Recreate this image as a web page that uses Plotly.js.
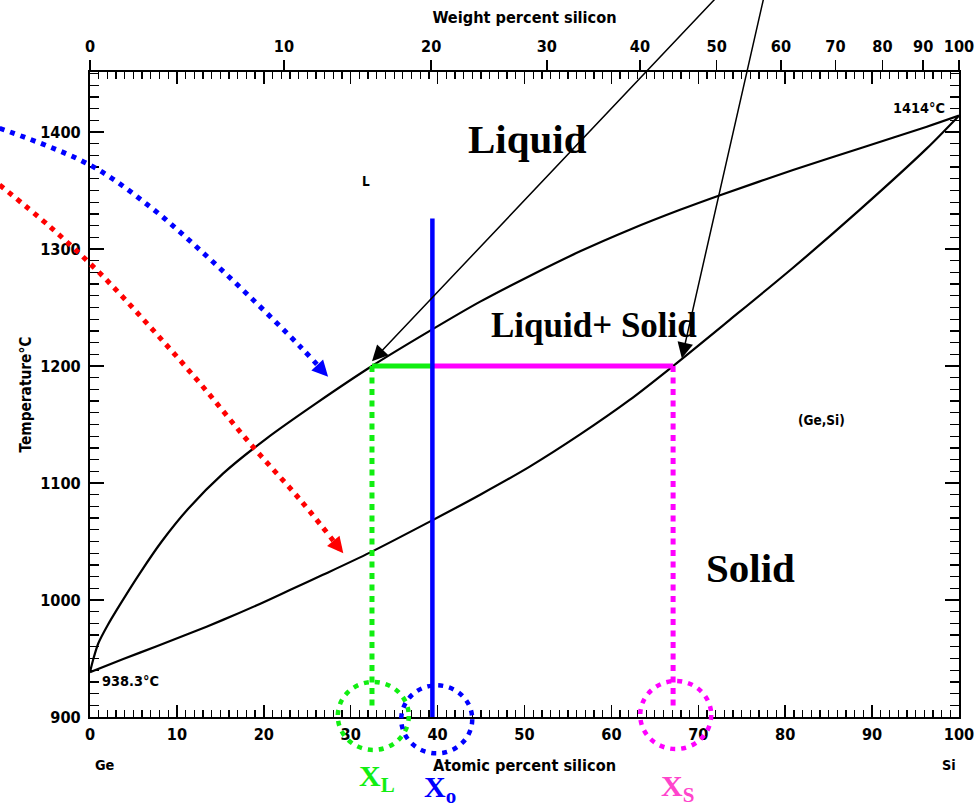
<!DOCTYPE html>
<html>
<head>
<meta charset="utf-8">
<script src="https://cdn.plot.ly/plotly-3.0.1.min.js"></script>
<style>html,body{margin:0;padding:0;background:#fff;}#chart{width:979px;height:807px;}</style>
</head>
<body>
<div id="chart"></div>
<script>
// ---- Data (atomic % Si, temperature °C) ----
const liquidusX = [0, 0.4, 0.96, 2.0, 3.45, 5.75, 8.25, 11.3, 15.3, 20.3, 26.1, 32.45, 39.1, 44.9, 50.6, 56.4, 62.1, 67.9, 72.5, 80.9, 89.0, 96.3, 100];
const liquidusT = [938.3, 950, 963, 978, 996, 1023, 1050, 1078, 1108, 1138, 1168.5, 1200, 1230, 1255, 1277, 1298, 1316.5, 1333.5, 1346, 1367.5, 1387, 1404.5, 1414];
const solidusX = [0, 3.83, 7.68, 11.5, 15.3, 19.2, 23.0, 26.8, 32.2, 39.1, 44.9, 50.6, 56.4, 62.1, 67.1, 73.3, 80.9, 88.5, 96.3, 100];
const solidusT = [938.3, 949.5, 960.5, 971.5, 983, 995.5, 1008.5, 1021.5, 1040.5, 1067, 1090, 1114, 1141.5, 1171, 1200, 1237.5, 1284, 1333, 1386, 1414];

const tieT = 1200;          // tie-line temperature
const xL = 32.45;           // liquid composition
const xO = 39.4;            // overall composition
const xS = 67.1;            // solid composition
const xOTop = 1326;         // top of the overall-composition line

// decorative curved arrows
const blueArrowX = [-10.4, 0, 6.9, 12.66, 18.4, 24.2, 27.4];
const blueArrowT = [1403.2, 1371.8, 1336.2, 1299.1, 1259.2, 1216.5, 1190.9];
const redArrowX = [-10.4, -4.6, 1.15, 6.9, 12.66, 18.4, 24.2, 29.15];
const redArrowT = [1354.7, 1319, 1279.2, 1233.6, 1185.2, 1133.9, 1085.5, 1039.9];
// straight black pointer arrows: tails (outside, top) and heads
const pointerTailX = [74, 78];
const pointerTailT = [1530, 1530];
const pointerHeadX = [32.45, 68.1];
const pointerHeadT = [1204, 1206.6];

// axis ticks
const atTicks = [0, 10, 20, 30, 40, 50, 60, 70, 80, 90, 100];
const wtTicks = [0, 10, 20, 30, 40, 50, 60, 70, 80, 90, 100];
const tempTicks = [900, 1000, 1100, 1200, 1300, 1400];

// ---- font choice: first condensed sans that is installed ----
function hasFont(f) {
  const c = document.createElement('canvas').getContext('2d');
  const s = 'Atomic percent silicon 1234567890';
  for (const base of ['monospace', 'serif']) {
    c.font = 'bold 20px ' + base; const w0 = c.measureText(s).width;
    c.font = 'bold 20px "' + f + '", ' + base; const w1 = c.measureText(s).width;
    if (Math.abs(w1 - w0) > 0.5) return true;
  }
  return false;
}
const fontChoices = [['Liberation Sans Narrow', 1.0], ['DejaVu Sans Condensed', 0.9], ['Liberation Sans', 0.92]];
let sansName = 'Liberation Sans', fs = 0.92;
for (const [f, k] of fontChoices) { if (hasFont(f)) { sansName = f; fs = k; break; } }
const sans = '"' + sansName + '", sans-serif';
const serif = 'Liberation Serif, Times New Roman, serif';

// ---- geometry ----
const W = 979, H = 807;
const xDom = [90 / W, 959 / W];
const yDom = [90 / H, 735 / H];
const xRange = [0, 100];
const yRange = [900, 1451.3];
// full-figure axes with the same data scale (for decorations outside the frame)
const xs = (xRange[1] - xRange[0]) / ((xDom[1] - xDom[0]) * W);
const ys = (yRange[1] - yRange[0]) / ((yDom[1] - yDom[0]) * H);
const x3Range = [xRange[0] - xDom[0] * W * xs, xRange[1] + (1 - xDom[1]) * W * xs];
const y3Range = [yRange[0] - yDom[0] * H * ys, yRange[1] + (1 - yDom[1]) * H * ys];

function wtToAt(w) { const a = w / 28.0855, b = (100 - w) / 72.63; return 100 * a / (a + b); }

const black = '#000';
const green = '#11ee11', blue = '#0000ff', magenta = '#ff00ff', red = '#ff0000', pink = '#ff44cc';

const traces = [
  {x: liquidusX, y: liquidusT, mode: 'lines', line: {color: black, width: 2.2, shape: 'spline', smoothing: 0.8}, xaxis: 'x', yaxis: 'y', name: 'Liquidus'},
  {x: solidusX, y: solidusT, mode: 'lines', line: {color: black, width: 2.2, shape: 'spline', smoothing: 0.8}, xaxis: 'x', yaxis: 'y', name: 'Solidus'},
  {x: [xL, xO], y: [tieT, tieT], mode: 'lines', line: {color: green, width: 5}, xaxis: 'x', yaxis: 'y', name: 'X_L segment'},
  {x: [xO, xS], y: [tieT, tieT], mode: 'lines', line: {color: magenta, width: 5}, xaxis: 'x', yaxis: 'y', name: 'X_S segment'},
  {x: [xL, xL], y: [tieT, 906], mode: 'lines', line: {color: green, width: 5, dash: '6px,5.5px'}, xaxis: 'x', yaxis: 'y', name: 'X_L'},
  {x: [xS, xS], y: [tieT, 906], mode: 'lines', line: {color: magenta, width: 5, dash: '6px,5.5px'}, xaxis: 'x', yaxis: 'y', name: 'X_S'},
  {x: [xO, xO], y: [xOTop, 900], mode: 'lines', line: {color: blue, width: 4.5}, xaxis: 'x', yaxis: 'y', name: 'X_o'},
  {x: blueArrowX, y: blueArrowT, mode: 'lines', line: {color: blue, width: 5, dash: '5px,6px', shape: 'spline'}, xaxis: 'x3', yaxis: 'y3', name: 'cooling (liquid)'},
  {x: redArrowX, y: redArrowT, mode: 'lines', line: {color: red, width: 5, dash: '5px,6px', shape: 'spline'}, xaxis: 'x3', yaxis: 'y3', name: 'cooling (solid)'},
  // empty trace so the weight-percent (top) axis is drawn
  {x: [null], y: [null], mode: 'markers', xaxis: 'x2', yaxis: 'y', hoverinfo: 'skip', name: 'wt%'}
];

function headAnn(xArr, tArr, color) {
  const n = xArr.length;
  const dx = (xArr[n - 1] - xArr[n - 2]) / xs;
  const dy = -(tArr[n - 1] - tArr[n - 2]) / ys;
  const L = Math.hypot(dx, dy);
  return {x: xArr[n - 1], y: tArr[n - 1], xref: 'x3', yref: 'y3', showarrow: true,
    ax: -dx / L * 13, ay: -dy / L * 13, arrowhead: 2, arrowsize: 1.0, arrowwidth: 3.2, arrowcolor: color, text: ''};
}

const annotations = [headAnn(blueArrowX, blueArrowT, blue), headAnn(redArrowX, redArrowT, red)];
for (let i = 0; i < pointerHeadX.length; i++) {
  annotations.push({x: pointerHeadX[i], y: pointerHeadT[i], xref: 'x', yref: 'y', axref: 'x', ayref: 'y',
    ax: pointerTailX[i], ay: pointerTailT[i], showarrow: true, arrowhead: 2, arrowsize: 2.1, arrowwidth: 1.5, arrowcolor: black, text: ''});
}
function txt(text, x, y, size, font, opts) {
  return Object.assign({x: x, y: y, xref: 'x', yref: 'y', text: text, showarrow: false,
    font: {family: font, size: size, color: black, weight: 'bold'}}, opts || {});
}
annotations.push(
  txt('Liquid', 50.3, 1394, 41, serif),
  txt('Liquid+ Solid', 58.05, 1235, 35, serif),
  txt('Solid', 76.0, 1027.4, 41, serif),
  txt('L', 31.8, 1358, 15 * fs, sans),
  txt('(Ge,Si)', 84.2, 1153.8, 15 * fs, sans),
  txt('1414°C', 98.6, 1420.5, 16 * fs, sans, {xanchor: 'right'}),
  txt('938.3°C', 1.2, 931, 16 * fs, sans, {xanchor: 'left'}),
  txt('Ge', 0.4, 900, 16 * fs, sans, {xanchor: 'left', yshift: -48}),
  txt('Si', 99.9, 900, 16 * fs, sans, {xanchor: 'right', yshift: -48}),
  {x: xL, y: 900, xref: 'x', yref: 'y', yshift: -61, xshift: 5, showarrow: false, text: 'X<sub>L</sub>', font: {family: serif, size: 30, color: green, weight: 'bold'}},
  {x: xO, y: 900, xref: 'x', yref: 'y', yshift: -72, xshift: 8, showarrow: false, text: 'X<sub>o</sub>', font: {family: serif, size: 30, color: blue, weight: 'bold'}},
  {x: xS, y: 900, xref: 'x', yref: 'y', yshift: -71, xshift: 4, showarrow: false, text: 'X<sub>S</sub>', font: {family: serif, size: 30, color: pink, weight: 'bold'}}
);

// dotted circles around the compositions on the axis
const rX = 35.5 * xs, rY = 34 * ys;
function circ(cx, cy, color) {
  return {type: 'circle', xref: 'x3', yref: 'y3', x0: cx - rX, x1: cx + rX, y0: cy - rY, y1: cy + rY,
    line: {color: color, width: 4.5, dash: '5px,6px'}};
}
const shapes = [circ(xL + 0.15, 900.9, green), circ(xO + 0.5, 898, blue), circ(xS + 0.3, 901.7, magenta)];

const tickFont = {family: sans, size: 18 * fs, color: black, weight: 'bold'};
const titleFont = {family: sans, size: 18 * fs, color: black, weight: 'bold'};
const layout = {
  width: W, height: H,
  margin: {l: 0, r: 0, t: 0, b: 0},
  paper_bgcolor: '#fff', plot_bgcolor: 'rgba(0,0,0,0)',
  showlegend: false,
  xaxis: {domain: xDom, range: xRange, anchor: 'y', tickvals: atTicks, ticks: 'inside', ticklen: 12, tickwidth: 1.5, tickcolor: black,
    minor: {dtick: 1, tick0: 0, ticks: 'inside', ticklen: 7, tickwidth: 1.3, tickcolor: black, showgrid: false},
    showline: true, linecolor: black, linewidth: 2, mirror: 'ticks', showgrid: false, zeroline: false,
    tickfont: tickFont, ticklabelstandoff: 2,
    title: {text: 'Atomic percent silicon', font: titleFont, standoff: 16}},
  xaxis2: {domain: xDom, range: xRange, overlaying: 'x', side: 'top', anchor: 'y',
    tickmode: 'array', tickvals: wtTicks.map(wtToAt), ticktext: wtTicks.map(String),
    ticks: 'outside', ticklen: 11, tickwidth: 1.5, tickcolor: black, showline: false, showgrid: false, zeroline: false,
    tickfont: tickFont, ticklabelstandoff: 2,
    title: {text: 'Weight percent silicon', font: titleFont, standoff: 8}},
  yaxis: {domain: yDom, range: yRange, anchor: 'x', tickvals: tempTicks, ticks: 'inside', ticklen: 14, tickwidth: 1.5, tickcolor: black,
    minor: {dtick: 10, tick0: 900, ticks: 'inside', ticklen: 9, tickwidth: 1.3, tickcolor: black, showgrid: false},
    showline: true, linecolor: black, linewidth: 2, mirror: 'ticks', showgrid: false, zeroline: false,
    tickfont: tickFont, ticklabelstandoff: 4,
    title: {text: 'Temperature°C', font: {family: sans, size: 17 * fs, color: black, weight: 'bold'}, standoff: 5}},
  xaxis3: {domain: [0, 1], range: x3Range, anchor: 'y3', visible: false, fixedrange: true},
  yaxis3: {domain: [0, 1], range: y3Range, anchor: 'x3', visible: false, fixedrange: true},
  annotations: annotations,
  shapes: shapes
};

Plotly.newPlot('chart', traces, layout, {displayModeBar: false, staticPlot: true});
</script>
</body>
</html>
